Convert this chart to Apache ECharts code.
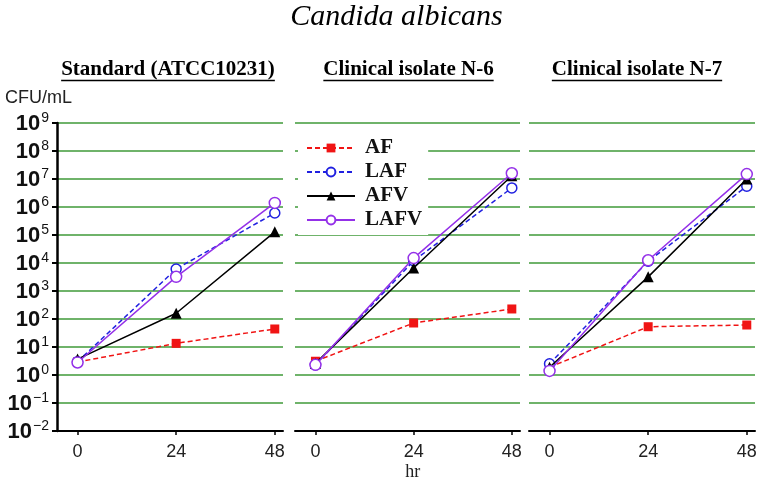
<!DOCTYPE html>
<html><head><meta charset="utf-8">
<script src="https://cdn.jsdelivr.net/npm/echarts@6/dist/echarts.min.js"></script>
<style>html,body{margin:0;padding:0;background:#fff}#c{width:760px;height:484px}</style>
</head><body><div id="c"></div>
<script>
// ---- data (CFU/mL) ----
const hours = [0, 24, 48];
const xTicks = [0, 24, 48];
const seriesNames = ['AF', 'LAF', 'AFV', 'LAFV'];
const mainTitle = 'Candida albicans';
const panelTitles = ['Standard (ATCC10231)', 'Clinical isolate N-6', 'Clinical isolate N-7'];
const yUnit = 'CFU/mL';
const xUnit = 'hr';

const std_AF   = [2.9, 13.5, 44];
const std_LAF  = [3.0, 6100, 610000];
const std_AFV  = [3.7, 160, 130000];
const std_LAFV = [2.8, 3200, 1400000];

const n6_AF   = [3.1, 72, 228];
const n6_LAF  = [2.3, 12000, 4800000];
const n6_AFV  = [2.6, 6600, 13000000];
const n6_LAFV = [2.3, 15000, 16000000];

const n7_AF   = [1.9, 53, 61];
const n7_LAF  = [2.5, 11500, 5500000];
const n7_AFV  = [1.9, 3200, 10000000];
const n7_LAFV = [1.4, 12500, 15000000];

const panels = [
  [std_AF, std_LAF, std_AFV, std_LAFV],
  [n6_AF, n6_LAF, n6_AFV, n6_LAFV],
  [n7_AF, n7_LAF, n7_AFV, n7_LAFV]
];

// ---- styles ----
const styles = {
  AF:   { symbol: 'rect', symbolSize: 9, color: '#f01414', type: [5, 3], fill: '#f01414' },
  LAF:  { symbol: 'circle', symbolSize: 10, color: '#2020e0', type: [5, 3], fill: '#fff' },
  AFV:  { symbol: 'triangle', symbolSize: 11, color: '#000', type: 'solid', fill: '#000' },
  LAFV: { symbol: 'circle', symbolSize: 11, color: '#9430e8', type: 'solid', fill: '#fff' }
};
const gridDefs = [
  { left: 57, top: 123, width: 226, height: 308 },
  { left: 295, top: 123, width: 225, height: 308 },
  { left: 529, top: 123, width: 226, height: 308 }
];
const titleCenters = [168, 408.5, 637];

const sup = e => (e < 0 ? '\u2212' + (-e) : String(e));

const chart = echarts.init(document.getElementById('c'), null, { renderer: 'canvas' });

const xAxes = gridDefs.map((g, i) => ({
  type: 'value', gridIndex: i, min: -5, max: 50,
  axisLine: { show: true, lineStyle: { color: '#000', width: 2 } },
  axisTick: { show: true, customValues: xTicks, length: 4, inside: false, lineStyle: { color: '#000', width: 1.5 } },
  axisLabel: { show: true, customValues: xTicks, margin: 12, fontSize: 18, color: '#222',
    fontFamily: '"Liberation Sans Narrow", "Liberation Sans", Arial, sans-serif' },
  splitLine: { show: false }
}));

const yAxes = gridDefs.map((g, i) => ({
  type: 'log', logBase: 10, gridIndex: i, min: 0.01, max: 1e9, interval: 1,
  axisLine: { show: i === 0, onZero: false, lineStyle: { color: '#000', width: 2.5 } },
  axisTick: { show: i === 0, length: 5, inside: false, lineStyle: { color: '#000', width: 2 } },
  axisLabel: {
    show: i === 0, margin: 8,
    formatter: v => '{b|10}{s|' + sup(Math.round(Math.log10(v))) + '}',
    rich: {
      b: { fontSize: 22, fontWeight: 'bold', color: '#111', lineHeight: 24, verticalAlign: 'bottom',
        fontFamily: '"Liberation Sans Narrow", "Liberation Sans", Arial, sans-serif' },
      s: { fontSize: 14, color: '#111', lineHeight: 24, verticalAlign: 'top', padding: [0, 0, 0, 1],
        fontFamily: '"Liberation Sans", Arial, sans-serif' }
    }
  },
  splitLine: { show: true, lineStyle: { color: '#3f9a38', width: 1.6, opacity: 1 } },
  minorTick: { show: false }, minorSplitLine: { show: false }
}));

const series = [];
panels.forEach((vals, p) => {
  seriesNames.forEach((name, k) => {
    const st = styles[name];
    series.push({
      type: 'line', name, xAxisIndex: p, yAxisIndex: p,
      data: hours.map((h, j) => [h, vals[k][j]]),
      symbol: st.symbol, symbolSize: st.symbolSize, showAllSymbol: true,
      lineStyle: { color: st.color, width: 1.5, type: st.type },
      itemStyle: { color: st.fill, borderColor: st.color, borderWidth: st.fill === '#fff' ? 1.5 : 0 },
      z: 2 + k, emphasis: { disabled: true }, silent: true
    });
  });
});

// text measurement for underlines
const ctx = document.createElement('canvas').getContext('2d');
const ptFont = 'bold 21px "Liberation Serif", "Times New Roman", serif';
ctx.font = ptFont;

const graphic = [
  { type: 'text', x: 396.5, y: 17, style: { text: mainTitle, textAlign: 'center', textVerticalAlign: 'middle',
      font: 'italic 30px "Liberation Serif", "Times New Roman", serif', fill: '#000' } },
  { type: 'text', x: 5, y: 98, style: { text: yUnit, textAlign: 'left', textVerticalAlign: 'middle',
      font: '18px "Liberation Sans", Arial, sans-serif', fill: '#222' } },
  { type: 'text', x: 412.7, y: 472, style: { text: xUnit, textAlign: 'center', textVerticalAlign: 'middle',
      font: '18px "Liberation Serif", "Times New Roman", serif', fill: '#222' } }
];
panelTitles.forEach((t, i) => {
  const w = ctx.measureText(t).width;
  graphic.push({ type: 'text', x: titleCenters[i], y: 70, style: { text: t, textAlign: 'center', textVerticalAlign: 'middle', font: ptFont, fill: '#000' } });
  graphic.push({ type: 'line', shape: { x1: titleCenters[i] - w / 2, y1: 80.5, x2: titleCenters[i] + w / 2, y2: 80.5 }, style: { stroke: '#000', lineWidth: 1.5 } });
});

chart.setOption({
  animation: false,
  backgroundColor: '#fff',
  grid: gridDefs,
  xAxis: xAxes,
  yAxis: yAxes,
  legend: {
    data: seriesNames, orient: 'vertical', left: 298, top: 135,
    itemWidth: 48, itemHeight: 11, itemGap: 2, backgroundColor: '#fff', padding: [2, 6, 4, 8],
    selectedMode: false,
    textStyle: { fontFamily: '"Liberation Serif", "Times New Roman", serif', fontWeight: 'bold', fontSize: 21,
      color: '#111', lineHeight: 22, padding: [0, 0, 0, 5] }
  },
  series,
  graphic
});
</script></body></html>
